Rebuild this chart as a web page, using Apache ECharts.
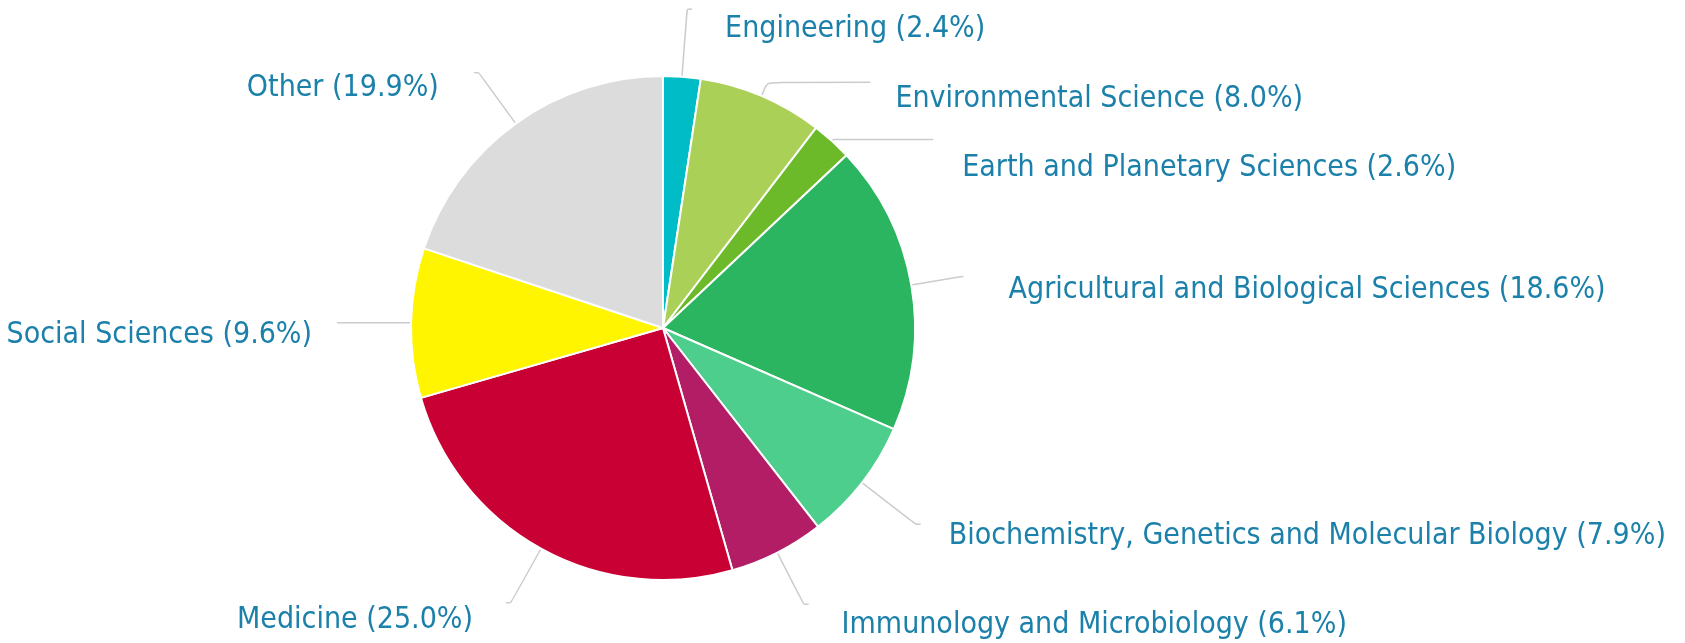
<!DOCTYPE html>
<html>
<head>
<meta charset="utf-8">
<script src="https://cdn.jsdelivr.net/npm/echarts@6/dist/echarts.min.js"></script>
<style>
  html, body { margin: 0; padding: 0; background: #ffffff; }
  #chart { width: 1685px; height: 643px; }
</style>
</head>
<body>
<div id="chart"></div>
<script>
// subject areas, clockwise from 12 o'clock
const categories = [
  'Engineering',
  'Environmental Science',
  'Earth and Planetary Sciences',
  'Agricultural and Biological Sciences',
  'Biochemistry, Genetics and Molecular Biology',
  'Immunology and Microbiology',
  'Medicine',
  'Social Sciences',
  'Other'
];
const shares = [2.4, 8.0, 2.6, 18.6, 7.9, 6.1, 25.0, 9.6, 19.9];
const colors = [
  '#00bcc6', '#abd057', '#6cba2a', '#2bb560', '#4dce8c',
  '#b21d66', '#c90034', '#fff500', '#dcdcdc'
];
// connector shape per slice: radial part, horizontal part, gap to text, text drop
const lineLen = [68, 15, 2, 50, 68, 58, 62, 10, 63];
const lineLen2 = [5, 103, 100, 3, 5, 5, 5, 64, 5];
const labelGap = [33, 25, 29, 45, 28, 33, 33, 25, 35];
const labelDrop = [20, 17, 29, 14, 12, 21, 17, 13, 16];

const chart = echarts.init(document.getElementById('chart'));

const option = {
  backgroundColor: '#ffffff',
  animation: false,
  series: [
    {
      type: 'pie',
      center: [663, 328],
      radius: 252,
      startAngle: 90,
      clockwise: true,
      avoidLabelOverlap: false,
      itemStyle: {
        borderColor: '#ffffff',
        borderWidth: 2
      },
      label: {
        show: true,
        position: 'outside',
        color: '#1b80aa',
        fontFamily: "'DejaVu Sans Condensed', 'DejaVu Sans', sans-serif",
        fontSize: 30,
        formatter: function (p) {
          return p.name + ' (' + p.value.toFixed(1) + '%)';
        }
      },
      labelLine: {
        show: true,
        smooth: 0.2,
        lineStyle: { color: '#cccccc', width: 1.5 }
      },
      labelLayout: function (params) {
        return { dy: labelDrop[params.dataIndex] };
      },
      emphasis: { disabled: true },
      data: categories.map(function (name, i) {
        return {
          name: name,
          value: shares[i],
          itemStyle: { color: colors[i] },
          label: { distanceToLabelLine: labelGap[i] },
          labelLine: { length: lineLen[i], length2: lineLen2[i] }
        };
      })
    }
  ]
};

chart.setOption(option);
</script>
</body>
</html>
